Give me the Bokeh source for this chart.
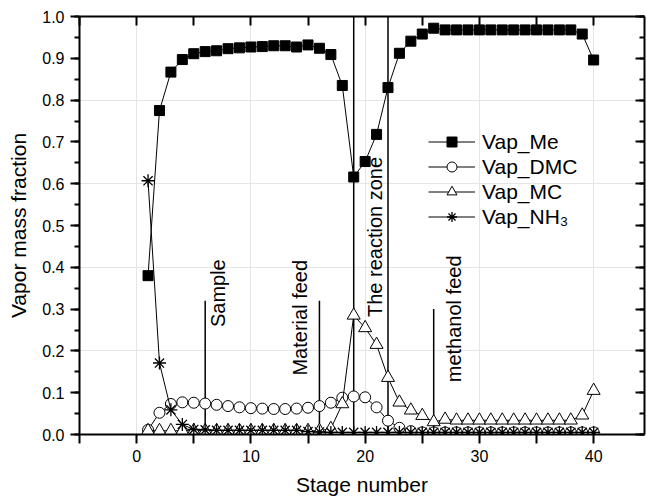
import math
from bokeh.plotting import figure
from bokeh.models import (Range1d, LinearAxis, FixedTicker, SingleIntervalTicker,
                          NumeralTickFormatter, Legend, LegendItem, ColumnDataSource)
from bokeh.core.properties import value
from bokeh.embed import file_html
from bokeh.resources import INLINE

FONT = "Liberation Sans"

# ---------------- data ----------------
stages = list(range(1, 41))
vap_me = [0.380, 0.775, 0.867, 0.897, 0.911, 0.916, 0.918, 0.923, 0.925, 0.927,
          0.928, 0.930, 0.930, 0.927, 0.932, 0.924, 0.909, 0.835, 0.616, 0.653,
          0.718, 0.830, 0.912, 0.941, 0.958, 0.972, 0.968, 0.968, 0.968, 0.968,
          0.968, 0.968, 0.968, 0.968, 0.968, 0.968, 0.968, 0.968, 0.958, 0.896]
vap_dmc = [0.011, 0.052, 0.073, 0.077, 0.076, 0.074, 0.071, 0.068, 0.065, 0.063,
           0.062, 0.061, 0.061, 0.062, 0.064, 0.068, 0.076, 0.088, 0.091, 0.089,
           0.065, 0.033, 0.016, 0.008, 0.005, 0.005, 0.005, 0.005, 0.005, 0.005,
           0.005, 0.005, 0.005, 0.005, 0.005, 0.005, 0.005, 0.005, 0.005, 0.005]
vap_mc = [0.009, 0.009, 0.009, 0.009, 0.009, 0.009, 0.009, 0.009, 0.009, 0.009,
          0.009, 0.009, 0.009, 0.009, 0.009, 0.009, 0.014, 0.073, 0.285, 0.255,
          0.215, 0.136, 0.077, 0.058, 0.045, 0.030, 0.036, 0.034, 0.034, 0.034,
          0.034, 0.034, 0.034, 0.034, 0.034, 0.034, 0.034, 0.034, 0.046, 0.105]
vap_nh3 = [0.607, 0.171, 0.059, 0.024, 0.012, 0.011, 0.010, 0.010, 0.010, 0.010,
           0.010, 0.010, 0.010, 0.010, 0.007, 0.006, 0.005, 0.005, 0.005, 0.005,
           0.005, 0.005, 0.005, 0.005, 0.005, 0.005, 0.005, 0.005, 0.005, 0.005,
           0.005, 0.005, 0.005, 0.005, 0.005, 0.005, 0.005, 0.005, 0.005, 0.005]

series_names = ["Vap_Me", "Vap_DMC", "Vap_MC", "Vap_NH\u2083"]

# marker lines (stage, top value)
mark_stage = [6, 16, 19, 22, 26]
mark_top = [0.32, 0.32, 1.0, 1.0, 0.30]

# annotations
note_text = ["Sample", "Material feed", "The reaction zone", "methanol feed"]
note_x = [7.09, 14.26, 20.88, 27.82]
note_y = [0.257, 0.141, 0.281, 0.125]

x_ticks = [0, 10, 20, 30, 40]
x_minor = [-5, 5, 15, 25, 35]

# ---------------- figure ----------------
p = figure(width=647, height=500,
           x_range=Range1d(-5, 44.45), y_range=Range1d(0, 1.0),
           output_backend="svg", toolbar_location=None,
           x_axis_location=None, y_axis_location=None,
           min_border_left=79, min_border_top=16, min_border_right=3, min_border_bottom=66)
p.outline_line_color = None
p.background_fill_color = "white"
p.border_fill_color = "white"


def style_axis(ax, inward):
    ax.axis_line_width = 2
    ax.axis_line_color = "black"
    ax.major_tick_line_width = 2
    ax.minor_tick_line_width = 2
    ax.major_tick_line_color = "black"
    ax.minor_tick_line_color = "black"
    ax.major_label_text_font = FONT
    ax.major_label_text_color = "black"
    ax.axis_label_text_font = FONT
    ax.axis_label_text_font_style = "normal"
    ax.axis_label_text_color = "black"
    if inward:
        ax.major_tick_in = 9
        ax.major_tick_out = 0
        ax.major_label_text_font_size = "0px"
        ax.major_label_standoff = 0


xb = LinearAxis(ticker=FixedTicker(ticks=x_ticks, minor_ticks=x_minor), axis_label="Stage number")
style_axis(xb, False)
xb.major_tick_out = 9
xb.major_tick_in = 0
xb.minor_tick_out = 9
xb.minor_tick_in = 0
xb.major_label_text_font_size = "16px"
xb.major_label_standoff = 6
xb.axis_label_text_font_size = "21px"
xb.axis_label_standoff = 8
p.add_layout(xb, "below")

xt = LinearAxis(ticker=FixedTicker(ticks=x_ticks, minor_ticks=x_minor))
style_axis(xt, True)
xt.minor_tick_in = 9
xt.minor_tick_out = 0
p.add_layout(xt, "above")

yl = LinearAxis(ticker=SingleIntervalTicker(interval=0.1, num_minor_ticks=2),
                formatter=NumeralTickFormatter(format="0.0"), axis_label="Vapor mass fraction")
style_axis(yl, False)
yl.major_tick_out = 9
yl.major_tick_in = 0
yl.minor_tick_out = 5
yl.minor_tick_in = 0
yl.major_label_text_font_size = "16px"
yl.major_label_standoff = 6
yl.axis_label_text_font_size = "21px"
yl.axis_label_standoff = 9
p.add_layout(yl, "left")

yr = LinearAxis(ticker=SingleIntervalTicker(interval=0.1, num_minor_ticks=2))
style_axis(yr, True)
yr.minor_tick_in = 5
yr.minor_tick_out = 0
p.add_layout(yr, "right")

# marker lines
p.segment(x0=mark_stage, y0=[0] * len(mark_stage), x1=mark_stage, y1=mark_top,
          line_color="black", line_width=1.5)

src = ColumnDataSource(dict(stage=stages, me=vap_me, dmc=vap_dmc, mc=vap_mc, nh3=vap_nh3))

l1 = p.line("stage", "me", source=src, line_color="black", line_width=1)
s1 = p.scatter("stage", "me", source=src, marker="square", size=10,
               fill_color="black", line_color="black")
l2 = p.line("stage", "dmc", source=src, line_color="black", line_width=1)
s2 = p.scatter("stage", "dmc", source=src, marker="circle", size=11,
               fill_color="white", line_color="black", line_width=1)
l3 = p.line("stage", "mc", source=src, line_color="black", line_width=1)
s3 = p.scatter("stage", "mc", source=src, marker="triangle", size=13,
               fill_color="white", line_color="black", line_width=1)
l4 = p.line("stage", "nh3", source=src, line_color="black", line_width=1)
s4 = p.scatter("stage", "nh3", source=src, marker="asterisk", size=13,
               line_color="black", line_width=1.3)

p.text(x=note_x, y=note_y, text=note_text, angle=math.pi / 2,
       text_font=value(FONT), text_font_size="20px", text_color="black",
       text_align="left", text_baseline="alphabetic")

legend = Legend(items=[LegendItem(label=series_names[0], renderers=[l1, s1]),
                       LegendItem(label=series_names[1], renderers=[l2, s2]),
                       LegendItem(label=series_names[2], renderers=[l3, s3]),
                       LegendItem(label=series_names[3], renderers=[l4, s4])],
                location=(349, 205))
legend.label_text_font = FONT
legend.label_text_font_size = "21px"
legend.label_text_color = "black"
legend.border_line_color = None
legend.background_fill_alpha = 0
legend.padding = 0
legend.spacing = 0
legend.margin = 0
legend.glyph_width = 47
legend.glyph_height = 25
legend.label_height = 25
legend.label_standoff = 7
p.add_layout(legend)

open("out.html", "w").write(file_html(p, INLINE))
